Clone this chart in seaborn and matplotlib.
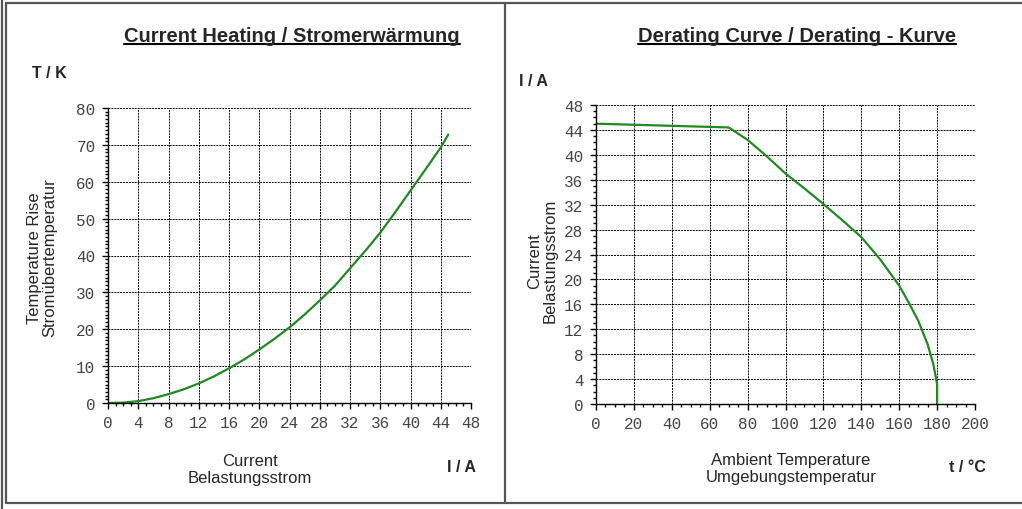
import matplotlib
matplotlib.use("Agg")
from matplotlib import pyplot as plt
from matplotlib.lines import Line2D
from matplotlib.ticker import MultipleLocator
import seaborn as sns
import pandas as pd

sns.set_style("white")
plt.rcParams['font.family'] = ['Liberation Sans', 'DejaVu Sans']

# Stromerwärmung: Strom (A) -> Temperaturerhöhung (K)
heat_current = [0, 2, 4, 6, 8, 10, 12, 14, 16, 18, 20, 22, 24, 26, 28, 30,
                32, 34, 36, 38, 40, 42, 44, 45]
heat_rise = [0, 0.1, 0.5, 1.3, 2.4, 3.7, 5.3, 7.2, 9.4, 11.8, 14.5, 17.4,
             20.5, 24.0, 27.8, 31.8, 36.5, 41.2, 46.2, 51.8, 57.6, 63.4, 69.3, 72.8]

# Derating-Kurve: Umgebungstemperatur (°C) -> Strom (A)
derate_temp = [0, 70, 80, 90, 100, 110, 120, 130, 140, 150, 160, 165, 170,
               175, 178, 180, 180]
derate_current = [45.0, 44.4, 42.4, 39.8, 37.0, 34.6, 32.1, 29.5, 26.8, 23.2,
                  19.0, 16.3, 13.4, 9.6, 6.4, 3.2, 0]

df_heat = pd.DataFrame({"I": heat_current, "T": heat_rise})
df_der = pd.DataFrame({"t": derate_temp, "I": derate_current})

W, H = 1022, 510
fig = plt.figure(figsize=(W / 100, H / 100), dpi=100)

green = "#1f8a1f"


def px(x, y):
    return x / W, 1 - y / H


def style_axes(ax, xmaj, xmin, ymaj, ymin):
    ax.xaxis.set_major_locator(MultipleLocator(xmaj))
    ax.xaxis.set_minor_locator(MultipleLocator(xmin))
    ax.yaxis.set_major_locator(MultipleLocator(ymaj))
    ax.yaxis.set_minor_locator(MultipleLocator(ymin))
    ax.grid(True, which="major", color="black", linestyle=(0, (2, 1)), linewidth=0.7)
    for s in ["top", "right"]:
        ax.spines[s].set_visible(False)
    for s in ["left", "bottom"]:
        ax.spines[s].set_color("black")
        ax.spines[s].set_linewidth(1.0)
    ax.tick_params(which="major", direction="out", length=4, width=1, color="black",
                   labelcolor="#444444", pad=5, left=True, bottom=True)
    ax.tick_params(which="minor", direction="out", length=2.5, width=1, color="black",
                   left=True, bottom=True)
    ax.set_xlabel("")
    ax.set_ylabel("")


# linkes Diagramm
ax1 = fig.add_axes([108 / W, 1 - 404 / H, (471 - 108) / W, (404 - 109) / H])
sns.lineplot(data=df_heat, x="I", y="T", ax=ax1, color=green, linewidth=1.6,
             estimator=None, sort=False)
ax1.set_xlim(0, 48)
ax1.set_ylim(0, 80)
style_axes(ax1, 4, 1, 10, 1)

# rechtes Diagramm
ax2 = fig.add_axes([596 / W, 1 - 405 / H, (975 - 596) / W, (405 - 106) / H])
sns.lineplot(data=df_der, x="t", y="I", ax=ax2, color=green, linewidth=1.6,
             estimator=None, sort=False)
ax2.set_xlim(0, 200)
ax2.set_ylim(0, 48)
style_axes(ax2, 20, 5, 4, 1)

# Texte
titles = []
titles.append(fig.text(*px(292, 36), "Current Heating / Stromerwärmung", ha="center",
                       va="center", fontsize=14.5, fontweight="bold"))
titles.append(fig.text(*px(797, 36), "Derating Curve / Derating - Kurve", ha="center",
                       va="center", fontsize=14.5, fontweight="bold"))

fig.text(*px(32, 74), "T / K", ha="left", va="center", fontsize=11.5, fontweight="bold")
fig.text(*px(519, 81), "I / A", ha="left", va="center", fontsize=11.5, fontweight="bold")
fig.text(*px(461, 468), "I / A", ha="center", va="center", fontsize=11.5, fontweight="bold")
fig.text(*px(967, 468), "t / °C", ha="center", va="center", fontsize=11.5, fontweight="bold")

fig.text(*px(42, 258), "Temperature Rise\nStromübertemperatur", ha="center", va="center",
         rotation=90, fontsize=12, linespacing=1.05)
fig.text(*px(542, 261), "Current\nBelastungsstrom", ha="center", va="center",
         rotation=90, fontsize=12, linespacing=1.05)
fig.text(*px(250, 470), "Current\nBelastungsstrom", ha="center", va="center",
         fontsize=12, linespacing=1.1)
fig.text(*px(791, 469), "Ambient Temperature\nUmgebungstemperatur", ha="center",
         va="center", fontsize=12, linespacing=1.1)

# Unterstreichung der Titel, Tick-Schrift
fig.canvas.draw()
renderer = fig.canvas.get_renderer()
for ax in (ax1, ax2):
    for lab in ax.get_xticklabels() + ax.get_yticklabels():
        lab.set_fontfamily("Liberation Mono")
        lab.set_fontsize(11.5)
for t in titles:
    bb = t.get_window_extent(renderer).transformed(fig.transFigure.inverted())
    y = bb.y0 + 0.5 / H
    fig.add_artist(Line2D([bb.x0, bb.x1], [y, y], color="black", linewidth=1.5))

# Rahmen
frame = dict(color="#555555", linewidth=1.6)
fig.add_artist(Line2D([2 / W, 2 / W], [0, 1], **frame))
fig.add_artist(Line2D([6 / W, 1.0], [1 - 4 / H, 1 - 4 / H], **frame))
fig.add_artist(Line2D([6 / W, 6 / W], [1 - 4 / H, 1 - 504 / H], **frame))
fig.add_artist(Line2D([6 / W, 1.0], [1 - 504 / H, 1 - 504 / H], **frame))
fig.add_artist(Line2D([505 / W, 505 / W], [1 - 4 / H, 1 - 504 / H], **frame))

fig.savefig("out.png", dpi=100)
